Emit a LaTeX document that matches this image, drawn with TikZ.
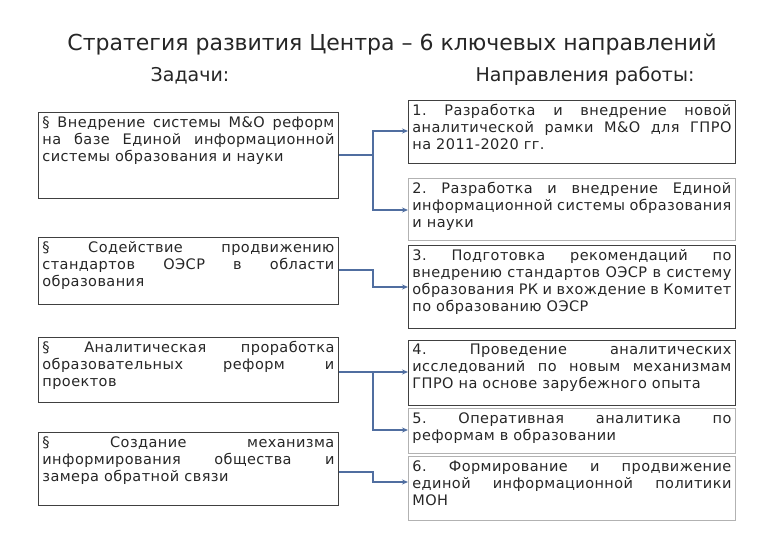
\documentclass[tikz,border=0pt]{standalone}
\usepackage{fontspec}
\setmainfont{DejaVu Sans}
\newfontfamily\boxfont[LetterSpace=3]{DejaVu Sans}
\usetikzlibrary{arrows.meta}
\frenchspacing
\newcommand{\bxt}[3]{\parbox[t][#2pt][t]{#1pt}{\boxfont\fontsize{14.5}{17}\selectfont\frenchspacing #3}}
\begin{document}
\begin{tikzpicture}[x=1pt,y=-1pt,
 boxL/.style={draw=black!75,line width=0.8pt,anchor=north west,inner sep=4pt,text=black!85},
 boxG/.style={draw=black!30,line width=0.8pt,anchor=north west,inner sep=4pt,text=black!85},
 conn/.style={draw={rgb,255:red,80;green,110;blue,160},line width=1.6pt,-{Stealth[length=6pt,width=5pt]}}]
\useasboundingbox (0,0) rectangle (780,540);
\node[font=\fontsize{22}{26}\selectfont,text=black!85] (title) at (392,44) {Стратегия развития Центра – 6 ключевых направлений};
\node[font=\fontsize{19}{22}\selectfont,text=black!85] (hl) at (190,76) {Задачи:};
\node[font=\fontsize{19}{22}\selectfont,text=black!85] (hr) at (585,76) {Направления работы:};
\node[boxL] (L1) at (38,112) {\bxt{292}{78}{\S~Внедрение системы М\&О реформ на базе Единой информационной системы образования и науки}};
\node[boxL] (L2) at (38,237) {\bxt{292}{59}{\S~Содействие продвижению стандартов ОЭСР в области образования}};
\node[boxL] (L3) at (38,337) {\bxt{292}{57}{\S~Аналитическая проработка образовательных реформ и проектов}};
\node[boxL] (L4) at (38,432) {\bxt{292}{65}{\S~Создание механизма информирования общества и замера обратной связи}};
\node[boxL] (R1) at (408,100) {\bxt{319}{55}{1.~Разработка и внедрение новой аналитической рамки М\&О для ГПРО на 2011-2020 гг.}};
\node[boxG] (R2) at (408,178) {\bxt{319}{54}{2.~Разработка и внедрение Единой информационной системы образования и науки}};
\node[boxL] (R3) at (408,245) {\bxt{319}{75}{3.~Подготовка рекомендаций по внедрению стандартов ОЭСР в систему образования РК и вхождение в Комитет по образованию ОЭСР}};
\node[boxL] (R4) at (408,340) {\bxt{319}{57}{4.~Проведение аналитических исследований по новым механизмам ГПРО на основе зарубежного опыта}};
\node[boxG] (R5) at (408,408) {\bxt{319}{37}{5.~Оперативная аналитика по реформам в образовании}};
\node[boxG] (R6) at (408,456) {\bxt{319}{56}{6.~Формирование и продвижение единой информационной политики МОН}};
\coordinate (b1) at (373,155);
\coordinate (b2) at (373,270);
\coordinate (b3) at (373,372);
\coordinate (b4) at (373,472);
\draw[conn] (L1.east|-b1) -- (b1) |- (R1.west|-0,131);
\draw[conn] (b1) |- (R2.west|-0,210);
\draw[conn] (L2.east|-b2) -- (b2) |- (R3.west|-0,287);
\draw[conn] (L3.east|-b3) -- (b3) -- (R4.west|-b3);
\draw[conn] (b3) |- (R5.west|-0,430);
\draw[conn] (L4.east|-b4) -- (b4) |- (R6.west|-0,482);
\end{tikzpicture}
\end{document}
